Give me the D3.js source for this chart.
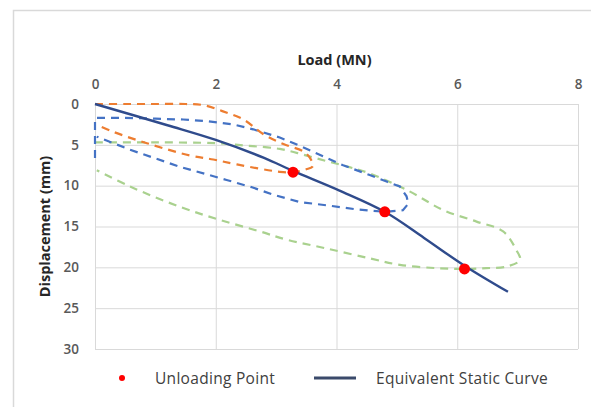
<!DOCTYPE html>
<html>
<head>
<meta charset="utf-8">
<script src="https://cdn.jsdelivr.net/npm/d3@7"></script>
<style>
  body { margin: 0; background: #fff; }
  svg { font-family: "Open Sans", "Liberation Sans", sans-serif; }
</style>
</head>
<body>
<svg id="chart" width="591" height="407"></svg>
<script>
// [load (MN), displacement (mm)]
const cycle1 = [[0,0],[0.5,0],[1.0,0],[1.5,0],[1.8,0.15],[2.12,0.9],[2.46,1.9],[2.79,3.7],[3.12,4.9],[3.45,5.8],[3.56,6.6],[3.61,7.6],[3.5,8.0],[3.28,8.35],[3.06,8.3],[2.35,7.4],[1.96,6.8],[1.57,6.3],[0.86,4.8],[0.3,3.4],[0.05,2.6]];
const cycle2 = [[0,6.6],[0,1.7],[0.5,1.7],[1.0,1.8],[1.46,1.9],[1.85,2.1],[2.29,2.5],[2.62,3.1],[3.06,4.1],[3.39,5.1],[3.78,6.4],[4.11,7.5],[4.55,8.7],[4.83,9.5],[5.05,10.1],[5.16,11.3],[5.19,12.2],[5.1,13.0],[4.8,13.2],[4.33,12.9],[3.83,12.4],[3.39,12.0],[2.95,11.1],[2.6,10.2],[2.18,9.3],[1.41,7.7],[0.58,5.6],[0.03,4.0]];
const cycle3 = [[0,4.7],[1.0,4.7],[2.0,4.8],[2.51,5.1],[3.06,5.5],[3.45,6.2],[3.84,7.0],[4.2,7.7],[4.55,8.5],[5.21,10.7],[5.77,13.0],[6.32,14.4],[6.76,15.6],[6.98,17.9],[7.04,19.1],[6.82,19.9],[6.48,20.1],[6.12,20.2],[5.66,20.1],[5.05,19.7],[4.55,18.9],[3.84,17.7],[3.17,16.6],[2.73,15.6],[2.07,14.2],[1.41,12.6],[0.58,10.1],[0.03,8.1]];
const staticCurve = [[0,0],[1.2,2.6],[2.0,4.4],[2.8,6.6],[3.28,8.2],[4.05,10.6],[4.8,13.2],[5.45,16.4],[6.12,19.8],[6.84,23.0]];
const unloadingPoints = [[3.28,8.35],[4.8,13.2],[6.12,20.2]];
const xTicks = [0, 2, 4, 6, 8];
const yTicks = [0, 5, 10, 15, 20, 25, 30];

const svg = d3.select('#chart');

// outer chart border (only top/left visible in the crop)
svg.append('path')
  .attr('d', 'M13.5,407 L13.5,10.5 L591,10.5')
  .attr('fill', 'none')
  .attr('stroke', '#d9d9d9')
  .attr('stroke-width', 1.5);

const x = d3.scaleLinear().domain([0, 8]).range([95, 578]);
const y = d3.scaleLinear().domain([0, 30]).range([104, 349]);

// Gridlines
svg.append('g')
  .attr('transform', `translate(0,${y(30)})`)
  .call(d3.axisBottom(x).tickValues(xTicks).tickSize(-(y(30) - y(0))).tickFormat(''))
  .call(g => g.select('.domain').remove())
  .call(g => g.selectAll('line').attr('stroke', '#d9d9d9'));

svg.append('g')
  .attr('transform', `translate(${x(8)},0)`)
  .call(d3.axisLeft(y).tickValues(yTicks).tickSize(x(8) - x(0)).tickFormat(''))
  .call(g => g.select('.domain').remove())
  .call(g => g.selectAll('line').attr('stroke', '#d9d9d9'));

// Tick labels
svg.append('g')
  .attr('transform', `translate(0,${y(0) - 15})`)
  .call(d3.axisTop(x).tickValues(xTicks).tickSize(0).tickPadding(0))
  .call(g => g.select('.domain').remove())
  .call(g => g.selectAll('text')
    .attr('font-family', '"Open Sans", sans-serif')
    .attr('font-size', 13.5).attr('font-weight', 600).attr('fill', '#595959'));

svg.append('g')
  .attr('transform', `translate(${x(0) - 16},0)`)
  .call(d3.axisLeft(y).tickValues(yTicks).tickSize(0).tickPadding(0))
  .call(g => g.select('.domain').remove())
  .call(g => g.selectAll('text')
    .attr('font-family', '"Open Sans", sans-serif')
    .attr('font-size', 13.5).attr('font-weight', 600).attr('fill', '#595959'));

// Axis titles
svg.append('text')
  .attr('x', (x(0) + x(8)) / 2 - 2)
  .attr('y', 65)
  .attr('text-anchor', 'middle')
  .attr('font-size', 14.5).attr('font-weight', 700).attr('fill', '#262626')
  .text('Load (MN)');

svg.append('text')
  .attr('transform', `translate(50,${(y(0) + y(30)) / 2}) rotate(-90)`)
  .attr('text-anchor', 'middle')
  .attr('font-size', 14.5).attr('font-weight', 700).attr('fill', '#262626')
  .text('Displacement (mm)');

// Lines
const line = d3.line()
  .x(d => x(d[0]))
  .y(d => y(d[1]));

const loops = [
  { data: cycle3, color: '#A9D18E', curve: d3.curveCatmullRom.alpha(0.5) },
  { data: cycle2, color: '#4472C4', curve: d3.curveLinear },
  { data: cycle1, color: '#ED7D31', curve: d3.curveCatmullRom.alpha(0.5) }
];

svg.selectAll('.loop')
  .data(loops)
  .enter()
  .append('path')
  .attr('class', 'loop')
  .attr('d', d => line.curve(d.curve)(d.data))
  .attr('fill', 'none')
  .attr('stroke', d => d.color)
  .attr('stroke-width', 2.2)
  .attr('stroke-dasharray', '8,6');

svg.append('path')
  .attr('d', line.curve(d3.curveCatmullRom.alpha(0.5))(staticCurve))
  .attr('fill', 'none')
  .attr('stroke', '#2F4B8C')
  .attr('stroke-width', 2.4);

svg.selectAll('.unload')
  .data(unloadingPoints)
  .enter()
  .append('circle')
  .attr('class', 'unload')
  .attr('cx', d => x(d[0]))
  .attr('cy', d => y(d[1]))
  .attr('r', 5.5)
  .attr('fill', '#FF0000');

// Legend
const legend = svg.append('g');
legend.append('circle')
  .attr('cx', 122).attr('cy', 378).attr('r', 3).attr('fill', '#FF0000');
legend.append('text')
  .attr('x', 155).attr('y', 383.5)
  .attr('font-size', 15.5).attr('letter-spacing', 0.3).attr('fill', '#404040')
  .text('Unloading Point');
legend.append('line')
  .attr('x1', 314).attr('x2', 356).attr('y1', 378).attr('y2', 378)
  .attr('stroke', '#3B4A6B').attr('stroke-width', 3);
legend.append('text')
  .attr('x', 376).attr('y', 383.5)
  .attr('font-size', 15.5).attr('letter-spacing', 0.3).attr('fill', '#404040')
  .text('Equivalent Static Curve');
</script>
</body>
</html>
